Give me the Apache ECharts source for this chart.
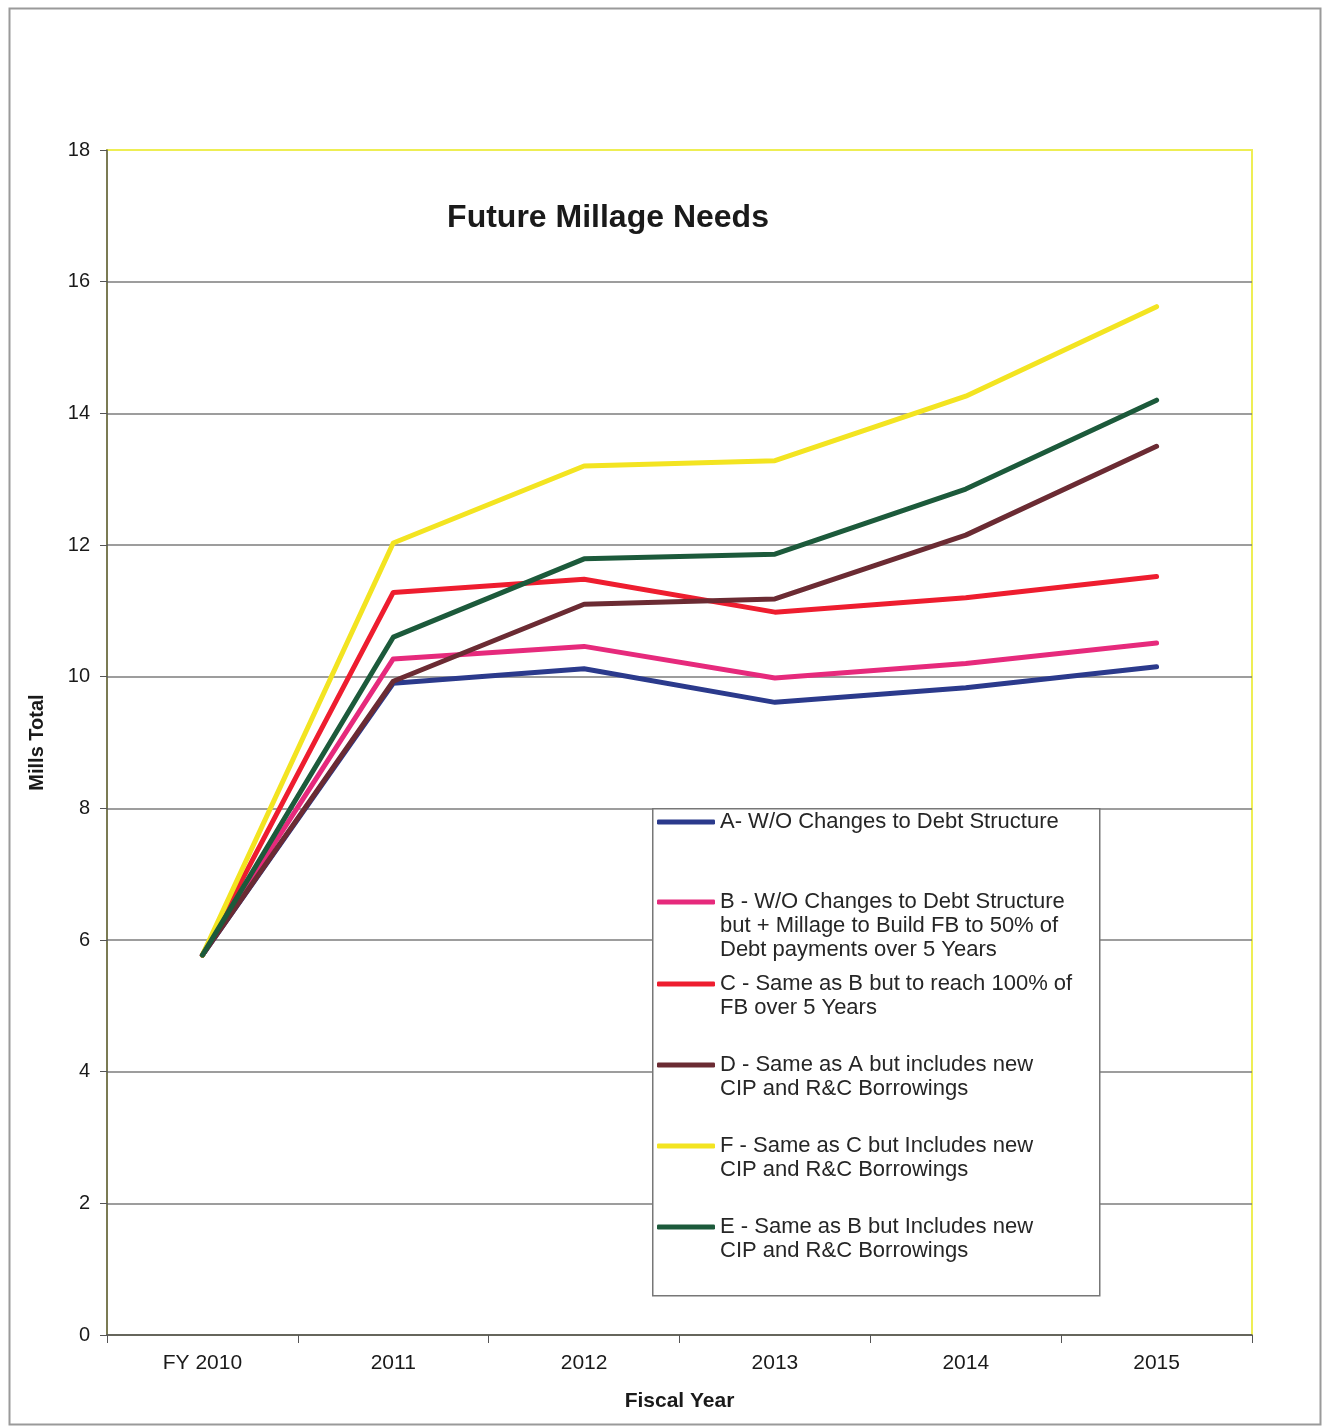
<!DOCTYPE html>
<html>
<head>
<meta charset="utf-8">
<script src="https://cdn.jsdelivr.net/npm/echarts@6/dist/echarts.min.js"></script>
<style>
html,body{margin:0;padding:0;background:#fff;}
#chart{width:1323px;height:1426px;}
</style>
</head>
<body>
<div id="chart"></div>
<script>
// ---- data ----
var categories = ['FY 2010', '2011', '2012', '2013', '2014', '2015'];
var seriesNames = [
  'A- W/O Changes to Debt Structure',
  'B - W/O Changes to Debt Structure\nbut + Millage to Build FB to 50% of\nDebt payments over 5 Years',
  'C - Same as B but to reach 100% of\nFB over 5 Years',
  'D - Same as A but includes new\nCIP and R&C Borrowings',
  'F - Same as C but Includes new\nCIP and R&C Borrowings',
  'E - Same as B but Includes new\nCIP and R&C Borrowings'
];
var valuesA = [5.77, 9.90, 10.12, 9.61, 9.83, 10.15];
var valuesB = [5.77, 10.27, 10.46, 9.98, 10.20, 10.51];
var valuesC = [5.77, 11.28, 11.48, 10.98, 11.20, 11.52];
var valuesD = [5.77, 9.93, 11.10, 11.18, 12.15, 13.50];
var valuesF = [5.77, 12.03, 13.20, 13.28, 14.26, 15.62];
var valuesE = [5.77, 10.60, 11.79, 11.86, 12.85, 14.20];
var yTicks = [0, 2, 4, 6, 8, 10, 12, 14, 16, 18];
var titleText = 'Future Millage Needs';
var xAxisName = 'Fiscal Year';
var yAxisName = 'Mills Total';

// ---- styling ----
var allValues = [valuesA, valuesB, valuesC, valuesD, valuesF, valuesE];
var colors = ['#2b3a8c', '#e62a7c', '#ee1d2f', '#6b2b33', '#f3e421', '#1c5a3b'];
var legendIconY = [822, 902, 984, 1065, 1146, 1227];
var LH = 24;
var FONT = 'Liberation Sans, Arial, sans-serif';

var chart = echarts.init(document.getElementById('chart'));

var series = seriesNames.map(function (name, i) {
  return {
    name: name,
    type: 'line',
    data: allValues[i],
    showSymbol: false,
    symbol: 'none',
    lineStyle: { width: 5, color: colors[i], cap: 'round', join: 'round' },
    itemStyle: { color: colors[i] },
    z: 2 + i * 0.01,
    animation: false
  };
});

var legends = seriesNames.map(function (name, i) {
  var n = name.split('\n').length;
  return {
    data: [name],
    left: 657,
    top: legendIconY[i] - (2 * n - 1) * LH / 2,
    orient: 'vertical',
    padding: 0,
    icon: 'roundRect',
    itemWidth: 58,
    itemHeight: 5,
    itemGap: 0,
    selectedMode: false,
    z: 5,
    formatter: function (nm) {
      var k = nm.split('\n').length;
      var pre = '';
      for (var j = 1; j < k; j++) pre += '\n';
      return pre + nm;
    },
    textStyle: {
      fontFamily: FONT,
      fontSize: 22,
      color: '#262626',
      lineHeight: LH
    }
  };
});

var splitColors = yTicks.map(function (v, i) {
  return i === yTicks.length - 1 ? '#eeee55' : '#7d7d7d';
});

var option = {
  backgroundColor: '#ffffff',
  animation: false,
  title: {
    text: titleText,
    left: 603,
    top: 197,
    textAlign: 'center',
    textStyle: { fontFamily: FONT, fontSize: 32, fontWeight: 'bold', color: '#1a1a1a' }
  },
  legend: legends,
  grid: {
    left: 107, right: 71, top: 150, bottom: 91,
    show: true,
    backgroundColor: '#ffffff',
    borderColor: '#eeee55',
    borderWidth: 2
  },
  xAxis: {
    type: 'category',
    data: categories,
    boundaryGap: true,
    name: xAxisName,
    nameLocation: 'middle',
    nameGap: 56,
    nameTextStyle: { fontFamily: FONT, fontSize: 21, fontWeight: 'bold', color: '#1a1a1a' },
    axisLine: { show: true, lineStyle: { color: '#555', width: 1.5 } },
    axisTick: { show: true, length: 8, lineStyle: { color: '#555' } },
    axisLabel: { fontFamily: FONT, fontSize: 21, color: '#1a1a1a', margin: 18 },
    splitLine: { show: false }
  },
  yAxis: {
    type: 'value',
    min: yTicks[0],
    max: yTicks[yTicks.length - 1],
    interval: yTicks[1] - yTicks[0],
    name: yAxisName,
    nameLocation: 'middle',
    nameGap: 60,
    nameRotate: 90,
    nameTextStyle: { fontFamily: FONT, fontSize: 20, fontWeight: 'bold', color: '#1a1a1a' },
    axisLine: { show: true, lineStyle: { color: '#555', width: 1.5 } },
    axisTick: { show: true, length: 7, lineStyle: { color: '#555' } },
    axisLabel: { fontFamily: FONT, fontSize: 20, color: '#1a1a1a', margin: 17 },
    splitLine: { show: true, lineStyle: { color: splitColors, width: 1.5 } }
  },
  graphic: [
    {
      type: 'rect', left: 7, top: 6, z: -10, silent: true,
      shape: { width: 1311, height: 1416 },
      style: { fill: 'none', stroke: '#9a9a9a', lineWidth: 2 }
    },
    {
      type: 'rect', left: 652, top: 808, z: 3, silent: true,
      shape: { width: 447, height: 487 },
      style: { fill: '#ffffff', stroke: '#777777', lineWidth: 1.5 }
    }
  ],
  series: series
};

chart.setOption(option);
</script>
</body>
</html>
